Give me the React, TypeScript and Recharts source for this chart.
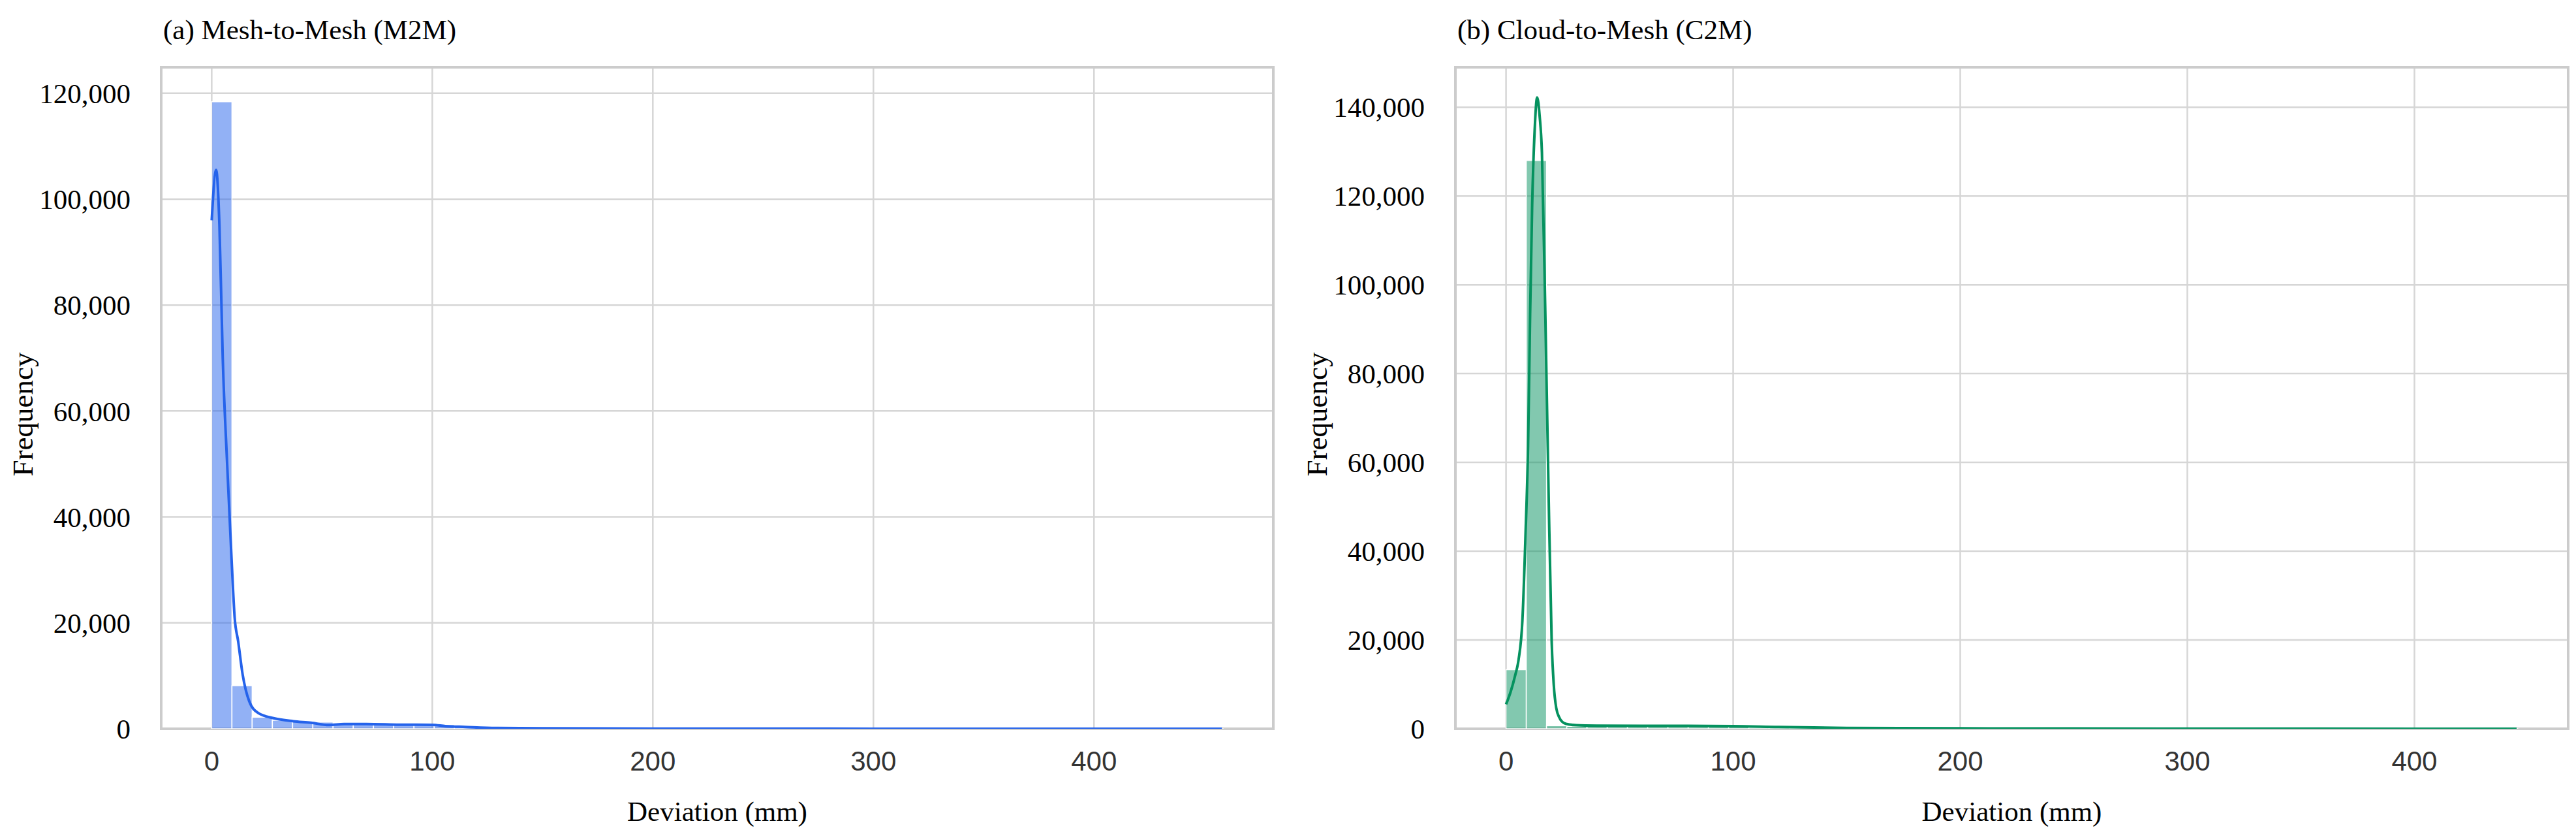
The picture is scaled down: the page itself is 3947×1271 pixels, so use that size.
import {
  Bar,
  CartesianGrid,
  ComposedChart,
  Line,
  ReferenceArea,
  XAxis,
  YAxis,
} from 'recharts'

// (a) Mesh-to-Mesh: 50 histogram bins starting at 0
const m2mBinWidth = 9.17
const m2mCounts = [
  118400, 8150, 2200, 1600, 1450, 1250, 900, 950, 950, 900,
  850, 800, 500, 300, 200, 150, 120, 100, 90, 80,
  70, 65, 60, 55, 50, 45, 40, 38, 35, 32,
  30, 28, 25, 22, 20, 18, 16, 15, 14, 12,
  10, 10, 9, 8, 8, 7, 6, 6, 5, 5,
]
const m2mKdeX = [0, 2, 3.5, 5, 7, 9, 10.4, 12, 14, 17, 21, 28, 37, 45, 53, 60, 70, 85, 100, 106, 115, 129, 150, 200, 250, 300, 350, 400, 458]
const m2mKdeY = [96000, 105500, 95000, 70000, 50000, 32000, 21000, 16500, 10300, 5200, 3000, 2000, 1430, 1140, 700, 890, 900, 780, 740, 500, 350, 150, 80, 40, 25, 15, 10, 5, 2]

// (b) Cloud-to-Mesh
const c2mBinWidth = 8.91
const c2mCounts = [
  13300, 128000, 700, 550, 500, 480, 470, 460, 450, 440,
  430, 400, 300, 250, 200, 170, 150, 130, 120, 110,
  100, 95, 90, 85, 80, 75, 70, 65, 60, 55,
  50, 45, 40, 38, 35, 32, 30, 28, 25, 22,
  20, 18, 16, 14, 12, 10, 9, 8, 6, 5,
]
const c2mKdeX = [0, 2, 4, 5.5, 7.2, 8.6, 9.7, 10.6, 11.5, 12.6, 13.7, 14.8, 15.8, 17.3, 18.7, 20.1, 21, 22.1, 23.5, 25.5, 28, 31, 40, 60, 80, 100, 120, 150, 200, 250, 300, 350, 400, 445]
const c2mKdeY = [5500, 8300, 12000, 15500, 24400, 44100, 63800, 93400, 118000, 134800, 142200, 138000, 129800, 93400, 54000, 19500, 10000, 4700, 2500, 1300, 950, 800, 700, 650, 650, 600, 400, 200, 100, 70, 40, 25, 15, 10]

const xTicks = [0, 100, 200, 300, 400]
const m2mYTicks = [0, 20000, 40000, 60000, 80000, 100000, 120000]
const c2mYTicks = [0, 20000, 40000, 60000, 80000, 100000, 120000, 140000]

const SERIF = '"Liberation Serif", "Times New Roman", serif'
const SANS = '"Liberation Sans", Arial, sans-serif'

interface PanelProps {
  title: string
  left: number
  width: number
  margin: { top: number; right: number; bottom: number; left: number }
  binWidth: number
  counts: number[]
  kdeX: number[]
  kdeY: number[]
  xDomain: [number, number]
  yDomain: [number, number]
  yTicks: number[]
  color: string
}

const HEIGHT = 1271
const Y_AXIS_W = 200
const X_AXIS_H = 155

function Panel(p: PanelProps) {
  const bins = p.counts.map((c, i) => ({ bin: i, count: c }))
  const kde = p.kdeX.map((x, i) => ({ x, kde: p.kdeY[i] }))
  const plotW = p.width - p.margin.left - p.margin.right - Y_AXIS_W
  const span = p.xDomain[1] - p.xDomain[0]
  // line the hidden band axis of the bins up with the numeric deviation axis
  const padLeft = ((0 - p.xDomain[0]) / span) * plotW
  const padRight = ((p.xDomain[1] - p.counts.length * p.binWidth) / span) * plotW

  return (
    <div style={{ position: 'absolute', left: p.left, top: 0 }}>
      <div
        style={{
          position: 'absolute',
          left: p.margin.left + Y_AXIS_W + 3,
          top: 24,
          fontFamily: SERIF,
          fontSize: 43,
          lineHeight: '43px',
          whiteSpace: 'nowrap',
          color: '#000',
        }}
      >
        {p.title}
      </div>
      <ComposedChart
        width={p.width}
        height={HEIGHT}
        data={bins}
        margin={p.margin}
        barCategoryGap={0}
        barGap={0}
      >
        <CartesianGrid xAxisId="num" stroke="#d6d6d6" strokeWidth={2.5} />
        <XAxis
          xAxisId="num"
          dataKey="x"
          type="number"
          domain={p.xDomain}
          ticks={xTicks}
          allowDataOverflow
          height={X_AXIS_H}
          axisLine={false}
          tickLine={false}
          tickSize={0}
          tickMargin={34}
          tick={{ fontSize: 42, fill: '#333', fontFamily: SANS }}
          label={{
            content: ({ viewBox }: any) => (
              <text
                x={viewBox.x + viewBox.width / 2}
                y={viewBox.y + 141}
                textAnchor="middle"
                fontFamily={SERIF}
                fontSize={43}
                fill="#000"
              >
                Deviation (mm)
              </text>
            ),
          }}
        />
        <XAxis
          xAxisId="bins"
          dataKey="bin"
          type="category"
          hide
          height={0}
          padding={{ left: padLeft, right: padRight }}
        />
        <YAxis
          type="number"
          domain={p.yDomain}
          ticks={p.yTicks}
          allowDataOverflow
          width={Y_AXIS_W}
          axisLine={false}
          tickLine={false}
          tickSize={0}
          tickMargin={47}
          tickFormatter={(v: number) => v.toLocaleString('en-US')}
          tick={{ fontSize: 43, fill: '#000', fontFamily: SERIF }}
          label={{
            content: ({ viewBox }: any) => {
              const cx = viewBox.x + 3
              const cy = viewBox.y + viewBox.height / 2 + 25
              return (
                <text
                  x={cx}
                  y={cy}
                  transform={`rotate(-90 ${cx} ${cy})`}
                  textAnchor="middle"
                  fontFamily={SERIF}
                  fontSize={45}
                  fill="#000"
                >
                  Frequency
                </text>
              )
            },
          }}
        />
        <Bar
          xAxisId="bins"
          dataKey="count"
          fill={p.color}
          fillOpacity={0.5}
          stroke="#ffffff"
          strokeWidth={1.5}
          isAnimationActive={false}
        />
        <Line
          xAxisId="num"
          data={kde}
          dataKey="kde"
          type="monotone"
          stroke={p.color}
          strokeWidth={4}
          dot={false}
          isAnimationActive={false}
        />
        <ReferenceArea
          xAxisId="num"
          x1={p.xDomain[0]}
          x2={p.xDomain[1]}
          y1={p.yDomain[0]}
          y2={p.yDomain[1]}
          fill="none"
          stroke="#cccccc"
          strokeWidth={4}
          ifOverflow="visible"
        />
      </ComposedChart>
    </div>
  )
}

export default function App() {
  return (
    <div style={{ position: 'absolute', left: 0, top: 0, width: 3947, height: HEIGHT, background: '#fff' }}>
      <Panel
        title="(a) Mesh-to-Mesh (M2M)"
        left={0}
        width={1990}
        margin={{ top: 103, right: 39, bottom: 0, left: 47 }}
        binWidth={m2mBinWidth}
        counts={m2mCounts}
        kdeX={m2mKdeX}
        kdeY={m2mKdeY}
        xDomain={[-22.9, 481.3]}
        yDomain={[0, 124900]}
        yTicks={m2mYTicks}
        color="#2563eb"
      />
      <Panel
        title="(b) Cloud-to-Mesh (C2M)"
        left={1990}
        width={1957}
        margin={{ top: 103, right: 12, bottom: 0, left: 40 }}
        binWidth={c2mBinWidth}
        counts={c2mCounts}
        kdeX={c2mKdeX}
        kdeY={c2mKdeY}
        xDomain={[-22.3, 467.7]}
        yDomain={[0, 149000]}
        yTicks={c2mYTicks}
        color="#05925f"
      />
    </div>
  )
}
